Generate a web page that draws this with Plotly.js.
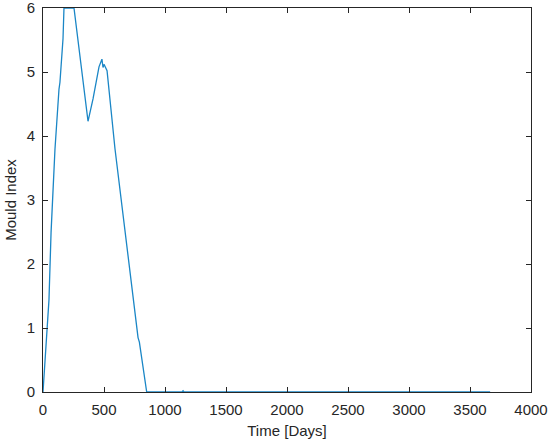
<!DOCTYPE html>
<html>
<head>
<meta charset="utf-8">
<script src="https://cdn.plot.ly/plotly-3.0.1.min.js"></script>
<style>
  html, body { margin: 0; padding: 0; background: #fff; }
  #plt { width: 550px; height: 443px; }
</style>
</head>
<body>
<div id="plt"></div>
<script>
// values (time in days, mould index)
var days = [0, 49, 66, 98, 131, 139, 164, 172, 254, 369, 410, 443, 459, 483, 492, 500, 525, 590, 738, 779, 790, 850, 1140, 1148, 1156, 3665];
var mould = [0, 1.44, 2.49, 3.79, 4.73, 4.84, 5.52, 6, 6, 4.23, 4.58, 4.89, 5.08, 5.2, 5.07, 5.12, 5.02, 3.8, 1.44, 0.85, 0.78, 0, 0, 0.02, 0, 0];

var xTicks = [0, 500, 1000, 1500, 2000, 2500, 3000, 3500, 4000];
var yTicks = [0, 1, 2, 3, 4, 5, 6];

var axisCol = '#262626';
var fnt = {family: 'Liberation Sans, Arial, sans-serif', size: 15, color: '#262626'};

var data = [{
    x: days,
    y: mould,
    type: 'scatter',
    mode: 'lines',
    line: {color: '#1a86c6', width: 1.3},
    hoverinfo: 'none'
}];

var layout = {
    width: 550,
    height: 443,
    margin: {l: 43, r: 19, t: 8, b: 51},
    paper_bgcolor: '#fff',
    plot_bgcolor: '#fff',
    showlegend: false,
    font: fnt,
    xaxis: {
        range: [0, 4000],
        tickvals: xTicks,
        ticks: 'inside',
        ticklen: 5,
        tickcolor: axisCol,
        showline: true,
        linecolor: axisCol,
        linewidth: 1,
        mirror: 'ticks',
        showgrid: false,
        zeroline: false,
        ticklabelstandoff: 4,
        ticklabeloverflow: 'allow',
        title: {text: 'Time [Days]', font: fnt, standoff: 8}
    },
    yaxis: {
        range: [0, 6],
        tickvals: yTicks,
        ticks: 'inside',
        ticklen: 5,
        tickcolor: axisCol,
        showline: true,
        linecolor: axisCol,
        linewidth: 1,
        mirror: 'ticks',
        showgrid: false,
        zeroline: false,
        ticklabelstandoff: 4,
        ticklabeloverflow: 'allow',
        title: {text: 'Mould Index', font: fnt, standoff: 6}
    }
};

Plotly.newPlot('plt', data, layout, {displayModeBar: false, staticPlot: true});
</script>
</body>
</html>
